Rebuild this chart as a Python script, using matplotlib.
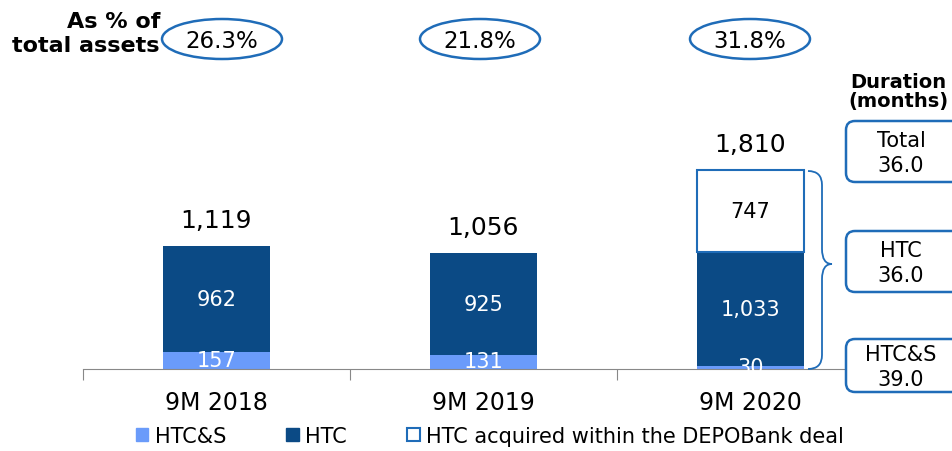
import matplotlib
matplotlib.use("Agg")
import matplotlib.pyplot as plt
from matplotlib.patches import Ellipse, FancyBboxPatch, PathPatch, Rectangle
from matplotlib.path import Path

periods = ["9M 2018", "9M 2019", "9M 2020"]
htcs = [157, 131, 30]
htc = [962, 925, 1033]
depo = [0, 0, 747]
totals = ["1,119", "1,056", "1,810"]
pct_assets = ["26.3%", "21.8%", "31.8%"]
dur_labels = ["Total\n36.0", "HTC\n36.0", "HTC&S\n39.0"]

C_LIGHT = "#6A9BFA"
C_DARK = "#0B4A85"
C_EDGE = "#1F6CB8"

plt.rcParams["font.family"] = ["DejaVu Sans"]

fig = plt.figure(figsize=(9.53, 4.52), dpi=100)
ax = fig.add_axes([83 / 953, 82 / 452, (884 - 83) / 953, 220 / 452])
x = list(range(len(periods)))
w = 0.4
ax.bar(x, htcs, w, color=C_LIGHT, zorder=2)
ax.bar(x, htc, w, bottom=htcs, color=C_DARK, zorder=2)
bot2 = [a + b for a, b in zip(htcs, htc)]
ax.bar(x, depo, w, bottom=bot2, color="white",
       edgecolor=[C_EDGE if d else "none" for d in depo], linewidth=1.5, zorder=2)

for i in x:
    ax.text(i, htcs[i] / 2 + 5, f"{htcs[i]:,}", ha="center", va="center", color="white", fontsize=15, zorder=3)
    ax.text(i, htcs[i] + htc[i] / 2, f"{htc[i]:,}", ha="center", va="center", color="white", fontsize=15, zorder=3)
    top = bot2[i] + depo[i]
    if depo[i]:
        ax.text(i, bot2[i] + depo[i] / 2, f"{depo[i]:,}", ha="center", va="center", color="black", fontsize=15, zorder=3)
    ax.text(i, top + 130, totals[i], ha="center", va="bottom", color="black", fontsize=18)

ax.set_xlim(-0.5, 2.5)
ax.set_ylim(0, 2000)
for s in ["top", "right", "left"]:
    ax.spines[s].set_visible(False)
ax.spines["bottom"].set_color("#888888")
ax.set_yticks([])
ax.set_xticks([-0.5, 0.5, 1.5, 2.5])
ax.set_xticklabels([])
ax.tick_params(axis="x", length=8, color="#888888", direction="out")
for i, p in enumerate(periods):
    ax.text(i, -195, p, ha="center", va="top", fontsize=17)

# legend
handles = [Rectangle((0, 0), 1, 1, fc=C_LIGHT, ec=C_LIGHT),
           Rectangle((0, 0), 1, 1, fc=C_DARK, ec=C_DARK),
           Rectangle((0, 0), 1, 1, fc="white", ec=C_EDGE, lw=1.5)]
fig.legend(handles, ["HTC&S", "HTC", "HTC acquired within the DEPOBank deal"],
           loc="center", bbox_to_anchor=(490 / 953, 1 - 437 / 452), ncol=3, frameon=False,
           fontsize=15, handlelength=0.6, handleheight=0.6, handletextpad=0.3, columnspacing=2.9)

# overlay in pixel coords for annotations
ov = fig.add_axes([0, 0, 1, 1], facecolor="none")
ov.set_xlim(0, 953)
ov.set_ylim(452, 0)
ov.axis("off")

ov.text(160, 34, "As % of\ntotal assets", ha="right", va="center", fontsize=16,
        fontweight="bold", linespacing=1.2)
for cx, t in zip([222, 480, 750], pct_assets):
    ov.add_patch(Ellipse((cx, 40), 120, 40, fill=False, ec=C_EDGE, lw=1.8))
    ov.text(cx, 41, t, ha="center", va="center", fontsize=16.5)

ov.text(898, 92, "Duration\n(months)", ha="center", va="center", fontsize=14,
        fontweight="bold", linespacing=1.05)
for (y0, y1), t in zip([(122, 183), (232, 293), (340, 393)], dur_labels):
    ov.add_patch(FancyBboxPatch((846, y0), 115, y1 - y0, boxstyle="round,pad=0,rounding_size=9",
                                fc="white", ec=C_EDGE, lw=1.8, zorder=4))
    ov.text(901, (y0 + y1) / 2 + 1, t, ha="center", va="center", fontsize=15, linespacing=1.3, zorder=5)

# curly brace
verts = [(808, 172), (822, 172), (822, 186), (822, 250), (822, 265), (832, 265),
         (822, 265), (822, 280), (822, 356), (822, 370), (808, 370)]
codes = [Path.MOVETO, Path.CURVE3, Path.CURVE3, Path.LINETO, Path.CURVE3, Path.CURVE3,
         Path.CURVE3, Path.CURVE3, Path.LINETO, Path.CURVE3, Path.CURVE3]
ov.add_patch(PathPatch(Path(verts, codes), fill=False, ec=C_EDGE, lw=1.3))

fig.savefig("out.png", dpi=100)
